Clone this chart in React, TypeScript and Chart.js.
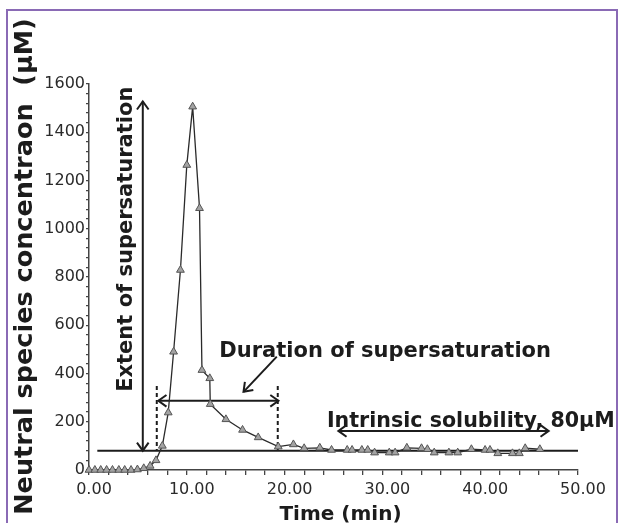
import { useEffect, useRef } from 'react';
import { Chart, registerables } from 'chart.js';

Chart.register(...registerables);

// ---- data (time in minutes, concentration in µM) ----
const timeMin = [0, 0.6, 1.2, 1.8, 2.4, 3.05, 3.65, 4.3, 4.95, 5.6, 6.25, 6.85, 7.5, 8.1, 8.65, 9.35, 10.0, 10.6, 11.3, 11.55, 12.35, 12.4, 14.0, 15.7, 17.3, 19.35, 20.9, 22.0, 23.6, 24.8, 26.4, 26.9, 27.9, 28.5, 29.2, 30.7, 31.3, 32.5, 34.0, 34.6, 35.3, 36.8, 37.7, 39.1, 40.5, 41.0, 41.8, 43.3, 44.0, 44.6, 46.1];
const concentration = [0, 0, 0, 0, 0, 0, 0, 0, 2, 7, 17, 40, 100, 238, 490, 829, 1264, 1506, 1085, 414, 380, 273, 210, 166, 135, 97, 106, 90, 92, 83, 83, 83, 83, 83, 72, 72, 72, 92, 90, 86, 72, 72, 72, 86, 83, 83, 69, 69, 69, 90, 86];

const xTickLabels = [0, 10, 20, 30, 40, 50];
const yTickLabels = [0, 200, 400, 600, 800, 1000, 1200, 1400, 1600];

const xTitle = 'Time (min)';
const yTitle = 'Neutral species concentraon  (μM)';

// annotations, in data units (minutes, µM)
const intrinsicSolubility = 80;
const solubilityLineSpan = [0.85, 50];
const extentArrow = { t: 5.5, from: 80, to: 1528 };
const extentLabel = { t: 4.37, v: 324, text: 'Extent of supersaturation' };
const durationArrow = { from: 7.09, to: 19.37, v: 287 };
const durationMarkers = [6.93, 19.3];
const durationMarkerSpan = [80, 348];
const durationLabel = { t: 13.33, v: 470, text: 'Duration of supersaturation' };
const durationPointer = { from: [19.2, 470], to: [15.8, 324] };
const solubilityArrow = { from: 25.5, to: 47.0, v: 162 };
const solubilityLabel = { t: 24.33, v: 178, text: 'Intrinsic solubility, 80μM' };

const INK = '#1c1c1c';
const FONT = "'DejaVu Sans', Verdana, sans-serif";

function arrowHead(ctx: CanvasRenderingContext2D, x: number, y: number, angle: number) {
  const len = 10;
  const spread = 0.62;
  ctx.beginPath();
  ctx.moveTo(x - len * Math.cos(angle - spread), y - len * Math.sin(angle - spread));
  ctx.lineTo(x, y);
  ctx.lineTo(x - len * Math.cos(angle + spread), y - len * Math.sin(angle + spread));
  ctx.stroke();
}

function segment(ctx: CanvasRenderingContext2D, x1: number, y1: number, x2: number, y2: number) {
  ctx.beginPath();
  ctx.moveTo(x1, y1);
  ctx.lineTo(x2, y2);
  ctx.stroke();
}

const annotationPlugin = {
  id: 'supersatAnnotations',
  beforeDatasetsDraw(chart: any) {
    const { ctx, scales } = chart;
    const px = (t: number) => scales.x.getPixelForValue(t);
    const py = (v: number) => scales.y.getPixelForValue(v);
    ctx.save();
    ctx.strokeStyle = INK;
    ctx.fillStyle = INK;
    ctx.lineWidth = 2;
    ctx.lineCap = 'butt';

    // intrinsic solubility line
    segment(ctx, px(solubilityLineSpan[0]), py(intrinsicSolubility), px(solubilityLineSpan[1]), py(intrinsicSolubility));

    // extent arrow (double headed, vertical)
    const ex = px(extentArrow.t);
    const eTop = py(extentArrow.to);
    const eBot = py(extentArrow.from);
    segment(ctx, ex, eTop, ex, eBot);
    arrowHead(ctx, ex, eTop, -Math.PI / 2);
    arrowHead(ctx, ex, eBot, Math.PI / 2);

    // duration dashed markers
    ctx.setLineDash([4, 3]);
    durationMarkers.forEach((t) => {
      segment(ctx, px(t), py(durationMarkerSpan[1]), px(t), py(durationMarkerSpan[0]));
    });
    ctx.setLineDash([]);

    // duration double arrow
    const dy = py(durationArrow.v);
    const dx0 = px(durationArrow.from);
    const dx1 = px(durationArrow.to);
    segment(ctx, dx0, dy, dx1, dy);
    arrowHead(ctx, dx0, dy, Math.PI);
    arrowHead(ctx, dx1, dy, 0);

    // pointer from label to the duration arrow
    const p0x = px(durationPointer.from[0]);
    const p0y = py(durationPointer.from[1]);
    const p1x = px(durationPointer.to[0]);
    const p1y = py(durationPointer.to[1]);
    segment(ctx, p0x, p0y, p1x, p1y);
    arrowHead(ctx, p1x, p1y, Math.atan2(p1y - p0y, p1x - p0x));

    // intrinsic solubility double arrow
    const sy = py(solubilityArrow.v);
    const sx0 = px(solubilityArrow.from);
    const sx1 = px(solubilityArrow.to);
    segment(ctx, sx0, sy, sx1, sy);
    arrowHead(ctx, sx0, sy, Math.PI);
    arrowHead(ctx, sx1, sy, 0);

    // labels
    ctx.font = `bold 21px ${FONT}`;
    ctx.textBaseline = 'alphabetic';
    ctx.textAlign = 'left';
    ctx.fillText(durationLabel.text, px(durationLabel.t), py(durationLabel.v));
    ctx.font = `bold 20.6px ${FONT}`;
    ctx.fillText(solubilityLabel.text, px(solubilityLabel.t), py(solubilityLabel.v));

    ctx.font = `bold 21px ${FONT}`;
    ctx.save();
    ctx.translate(px(extentLabel.t), py(extentLabel.v));
    ctx.rotate(-Math.PI / 2);
    ctx.fillText(extentLabel.text, 0, 0);
    ctx.restore();

    ctx.restore();
  },
  afterDraw(chart: any) {
    const { ctx, chartArea } = chart;
    ctx.save();
    ctx.fillStyle = INK;
    // x title
    ctx.font = `bold 20px ${FONT}`;
    ctx.textAlign = 'center';
    ctx.textBaseline = 'alphabetic';
    ctx.fillText(xTitle, (chartArea.left + chartArea.right) / 2 + 7, 520);
    // y title
    ctx.font = `bold 25.5px ${FONT}`;
    ctx.translate(31.5, 266.5);
    ctx.rotate(-Math.PI / 2);
    ctx.fillText(yTitle, 0, 0);
    ctx.restore();
  },
};

export default function App() {
  const canvasRef = useRef<HTMLCanvasElement | null>(null);

  useEffect(() => {
    const canvas = canvasRef.current;
    if (!canvas) return;
    const points = timeMin.map((t, i) => ({ x: t, y: concentration[i] }));
    const chart = new Chart(canvas, {
      type: 'line',
      data: {
        datasets: [
          {
            data: points,
            borderColor: '#2a2a2a',
            borderWidth: 1.3,
            tension: 0,
            pointStyle: 'triangle',
            pointRadius: 4.5,
            pointBackgroundColor: '#a3a3a3',
            pointBorderColor: '#555555',
            pointBorderWidth: 1,
            clip: false,
          } as any,
        ],
      },
      options: {
        responsive: false,
        animation: false,
        devicePixelRatio: 1,
        layout: { padding: { left: 0, right: 41, top: 84, bottom: 0 } },
        plugins: { legend: { display: false }, tooltip: { enabled: false } },
        scales: {
          x: {
            type: 'linear',
            min: 0,
            max: 50,
            afterFit: (s: any) => { s.height = 53; },
            ticks: {
              stepSize: 2,
              autoSkip: false,
              maxRotation: 0,
              labelOffset: 5,
              padding: 5,
              color: '#2a2a2a',
              font: { family: FONT, size: 16 },
              callback: (v: any) => (xTickLabels.includes(Number(v)) ? Number(v).toFixed(2) : ''),
            },
            grid: { drawOnChartArea: false, tickLength: 5, color: '#444', lineWidth: 1.3 },
            border: { color: '#444', width: 1.5 },
          },
          y: {
            type: 'linear',
            min: 0,
            max: 1600,
            afterFit: (s: any) => { s.width = 89; },
            ticks: {
              stepSize: 40,
              autoSkip: false,
              padding: 1,
              color: '#2a2a2a',
              font: { family: FONT, size: 16 },
              callback: (v: any) => (yTickLabels.includes(Number(v)) ? String(v) : ''),
            },
            grid: { drawOnChartArea: false, tickLength: 3, color: '#444', lineWidth: 1.3 },
            border: { color: '#444', width: 1.5 },
          },
        },
      },
      plugins: [annotationPlugin],
    });
    return () => chart.destroy();
  }, []);

  return (
    <div style={{ position: 'fixed', left: 0, top: 0, width: 619, height: 523, background: '#fff' }}>
      <canvas ref={canvasRef} width={619} height={523} style={{ position: 'absolute', left: 0, top: 0 }} />
      <div
        style={{
          position: 'absolute',
          left: 6,
          top: 9,
          width: 608,
          height: 520,
          border: '2px solid #8a6ab5',
          borderBottom: 'none',
          pointerEvents: 'none',
        }}
      />
    </div>
  );
}
